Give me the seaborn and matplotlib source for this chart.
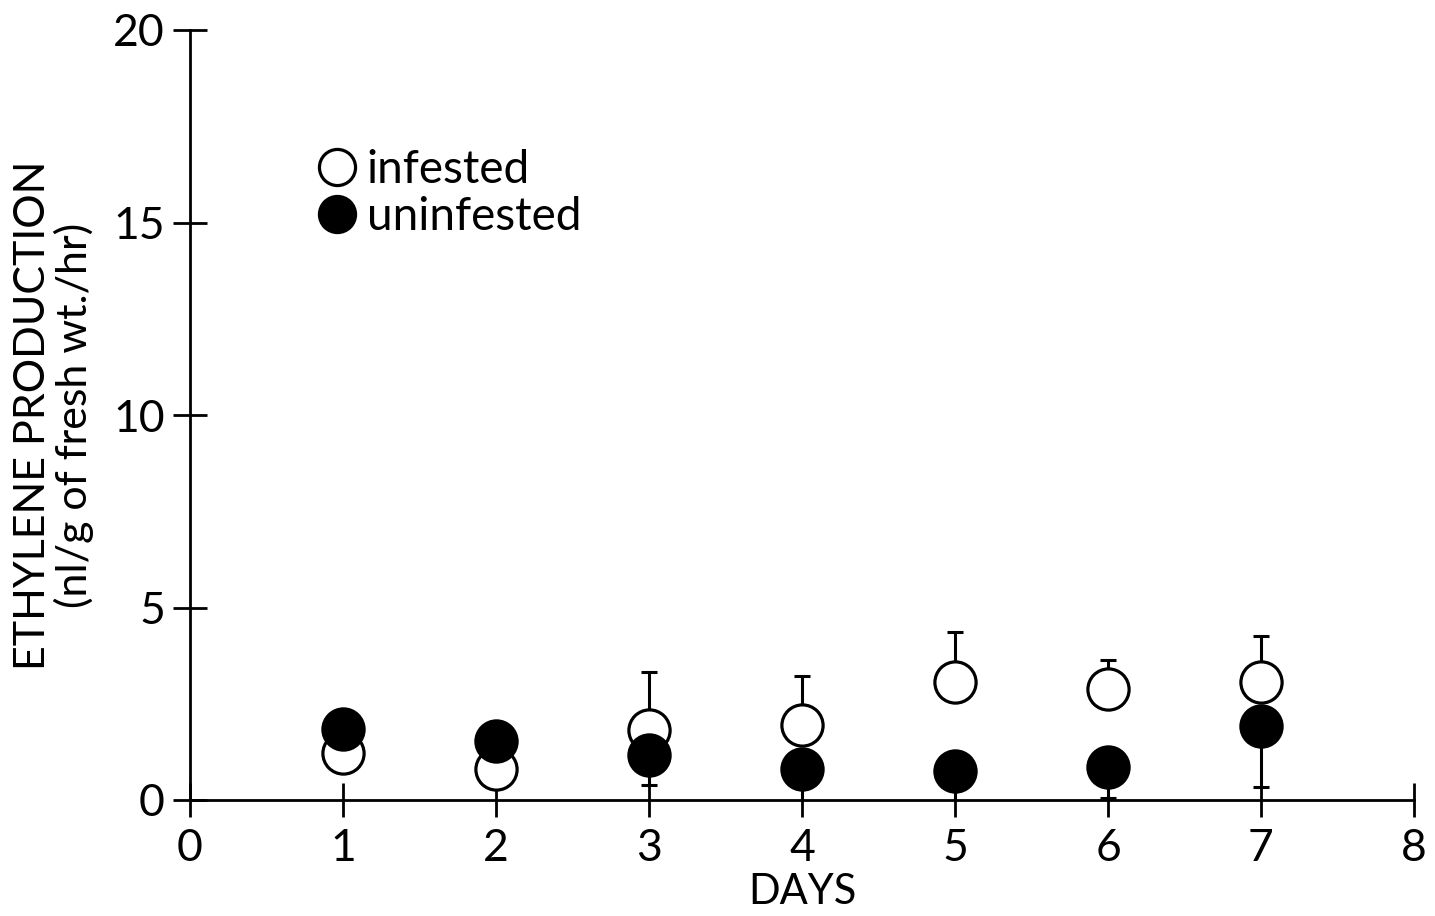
import matplotlib
matplotlib.use("Agg")
import matplotlib.pyplot as plt
import seaborn as sns
import pandas as pd
from matplotlib.lines import Line2D

days = [1, 2, 3, 4, 5, 6, 7]
infested = [1.22, 0.80, 1.82, 1.95, 3.06, 2.88, 3.06]
infested_err = [0.0, 0.0, 1.50, 1.27, 1.30, 0.76, 1.20]
uninfested = [1.84, 1.53, 1.17, 0.80, 0.75, 0.86, 1.92]
uninfested_err = [0.0, 0.0, 0.78, 0.82, 0.77, 0.82, 1.58]

x_ticks = [0, 1, 2, 3, 4, 5, 6, 7, 8]
y_ticks = [0, 5, 10, 15, 20]

sns.set_theme(style="white")
plt.rcParams['font.family'] = ['Lato', 'DejaVu Sans']
plt.rcParams['text.color'] = 'black'
plt.rcParams['axes.labelcolor'] = 'black'
plt.rcParams['xtick.color'] = 'black'
plt.rcParams['ytick.color'] = 'black'

fig = plt.figure(figsize=(14.35, 9.16), dpi=100)
ax = fig.add_axes([190/1435, 116/916, (1414-190)/1435, (800-30)/916])

df = pd.DataFrame({
    "day": days * 2,
    "value": infested + uninfested,
    "group": ["infested"] * 7 + ["uninfested"] * 7,
})

# one-sided error bars (upward for infested, downward for uninfested)
ax.errorbar(days, infested, yerr=[[0]*7, infested_err], fmt='none',
            ecolor='black', elinewidth=2.2, capsize=6, capthick=2.2, zorder=2)
ax.errorbar(days, uninfested, yerr=[uninfested_err, [0]*7], fmt='none',
            ecolor='black', elinewidth=2.2, capsize=6, capthick=2.2, zorder=2)

sns.scatterplot(data=df[df.group == "infested"], x="day", y="value", ax=ax,
                marker='o', s=880, facecolor='white', edgecolor='black',
                linewidth=2.3, zorder=3, legend=False)
sns.scatterplot(data=df[df.group == "uninfested"], x="day", y="value", ax=ax,
                marker='o', s=880, color='black', edgecolor='black',
                linewidth=2.3, zorder=4, legend=False)

ax.set_xlim(0, 8)
ax.set_ylim(0, 20)
ax.set_xticks(x_ticks)
ax.set_yticks(y_ticks)
ax.set_xticklabels([str(t) for t in x_ticks], fontsize=32, color='black')
ax.set_yticklabels([str(t) for t in y_ticks], fontsize=32, color='black')
ax.tick_params(axis='both', direction='inout', length=24, width=2,
               color='black', labelcolor='black', left=True, bottom=True)
ax.tick_params(axis='x', pad=8)
ax.tick_params(axis='y', pad=6)

for s in ['top', 'right']:
    ax.spines[s].set_visible(False)
for s in ['left', 'bottom']:
    ax.spines[s].set_color('black')
    ax.spines[s].set_linewidth(2)

ax.set_xlabel("DAYS", fontsize=30, labelpad=3, color='black')
ax.set_ylabel("ETHYLENE PRODUCTION\n(nl/g of fresh wt./hr)", fontsize=31,
              labelpad=14, color='black', linespacing=1.05)

handles = [
    Line2D([], [], marker='o', linestyle='none', markersize=26,
           markerfacecolor='white', markeredgecolor='black', markeredgewidth=2.3),
    Line2D([], [], marker='o', linestyle='none', markersize=26,
           markerfacecolor='black', markeredgecolor='black', markeredgewidth=2.3),
]
ax.legend(handles, ["infested", "uninfested"], loc='upper left',
          bbox_to_anchor=(0.105, 0.845), frameon=False, fontsize=33,
          handletextpad=0.25, labelspacing=0.1, handlelength=0.8,
          borderpad=0, borderaxespad=0)

ax.grid(False)
fig.savefig("out.png", dpi=100, facecolor='white')
